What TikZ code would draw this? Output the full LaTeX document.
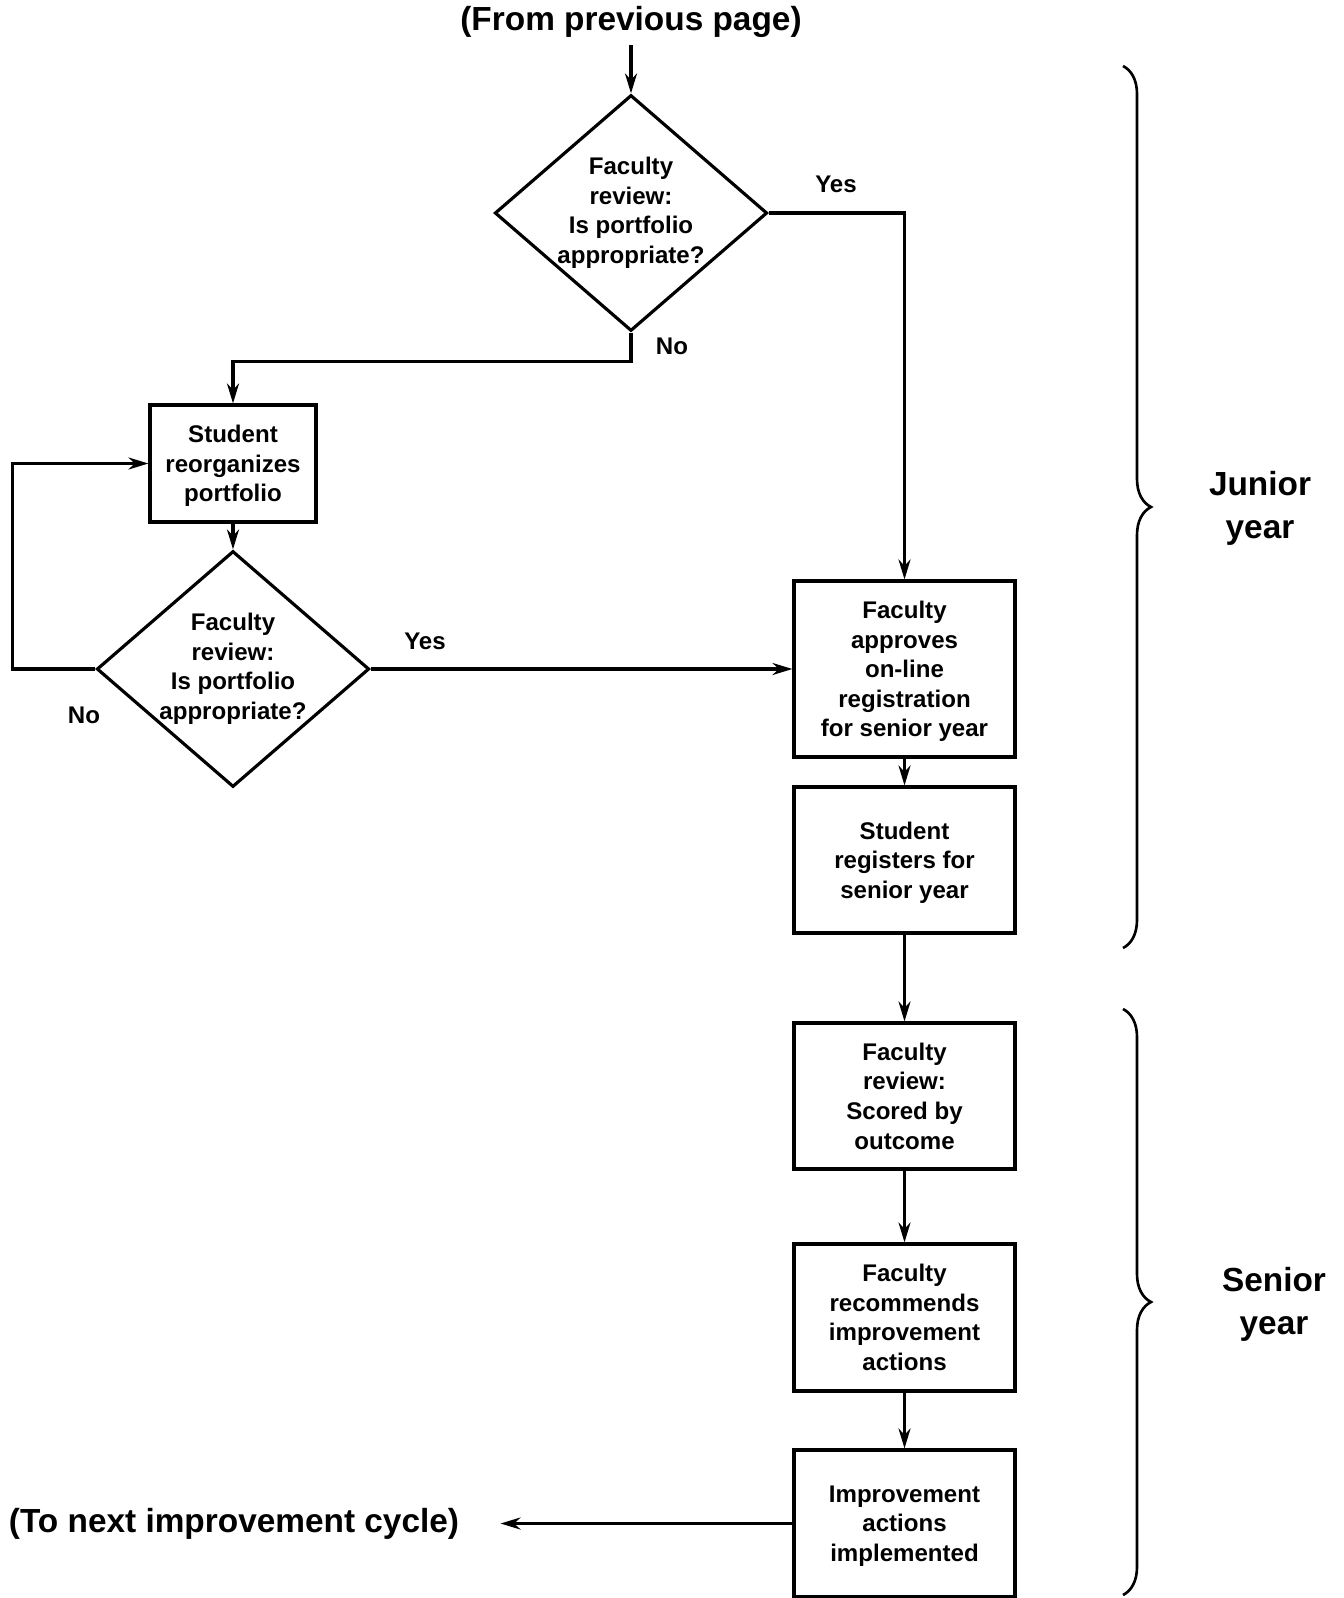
\documentclass[tikz,border=0pt]{standalone}
\usepackage{fontspec}
\setmainfont{Liberation Sans}
\usetikzlibrary{arrows.meta,shapes.geometric,decorations.pathreplacing}

\begin{document}
\begin{tikzpicture}[
  x=0.02cm,
  y=-0.02cm,
  line width=1.8pt,
  every node/.style={
    font=\bfseries\fontsize{13.7}{16.8}\selectfont,
    align=center
  },
  big/.style={
    font=\bfseries\fontsize{19}{24.4}\selectfont
  },
  box/.style={
    draw,
    rectangle,
    minimum width=4.42cm,
    inner sep=0pt,
    text depth=0pt
  },
  decision/.style={
    draw,
    diamond,
    inner sep=0pt,
    minimum width=5.45cm,
    minimum height=4.72cm
  },
  flow/.style={
    -{Stealth[length=0.4cm,width=0.24cm]}
  },
  brace/.style={
    decorate,
    decoration={
      brace,
      amplitude=0.56cm
    },
    line width=1.5pt
  }
]
  \useasboundingbox (0,0) rectangle (1344,1598);
  \node[big] (title) at (631,22) {(From previous page)};
  \node[decision,label={center:{Faculty\\review:\\Is portfolio\\appropriate?}}]
    (q1) at (631,213) {};
  \node (yes1) at (836,184) {Yes};
  \node (no1) at (672,346) {No};
  \node[box,minimum width=3.32cm,minimum height=2.34cm]
    (reorg) at (233,463.5) {Student\\reorganizes\\portfolio};
  \node[decision,label={center:{Faculty\\review:\\Is portfolio\\appropriate?}}]
    (q2) at (233,669) {};
  \node (yes2) at (425,641) {Yes};
  \node (no2) at (84,715) {No};
  \node[box,minimum height=3.52cm]
    (approve) at (904.5,669) {Faculty\\approves\\on-line\\registration\\for senior year};
  \node[box,minimum height=2.92cm]
    (register) at (904.5,860) {Student\\registers for\\senior year};
  \node[box,minimum height=2.92cm]
    (scored) at (904.5,1096) {Faculty\\review:\\Scored by\\outcome};
  \node[box,minimum height=2.94cm]
    (recommend) at (904.5,1317.5) {Faculty\\recommends\\improvement\\actions};
  \node[box,minimum height=2.94cm]
    (implement) at (904.5,1523.5) {Improvement\\actions\\implemented};
  \node[big] (next) at (234,1523.5) {(To next improvement cycle)};
  \node[big] (junior) at (1260,508) {Junior\\year};
  \node[big] (senior) at (1274,1304) {Senior\\year};

  \draw[flow] (title) -- (q1);
  \draw[flow] (q1.east) -| (approve.north);
  \draw[flow] (q1.south) -- ++(0,29) -| (reorg.north);
  \draw[flow] (reorg) -- (q2);
  \draw[flow] (q2.west) -- ++(-83,0) |- (reorg.west);
  \draw[flow] (q2) -- (approve);
  \draw[flow] (approve) -- (register);
  \draw[flow] (register) -- (scored);
  \draw[flow] (scored) -- (recommend);
  \draw[flow] (recommend) -- (implement);
  \draw[flow,shorten >=0.68cm] (implement) -- (next);

  \draw[brace] (1123,66) -- (1123,948);
  \draw[brace] (1123,1009) -- (1123,1595);
\end{tikzpicture}
\end{document}
